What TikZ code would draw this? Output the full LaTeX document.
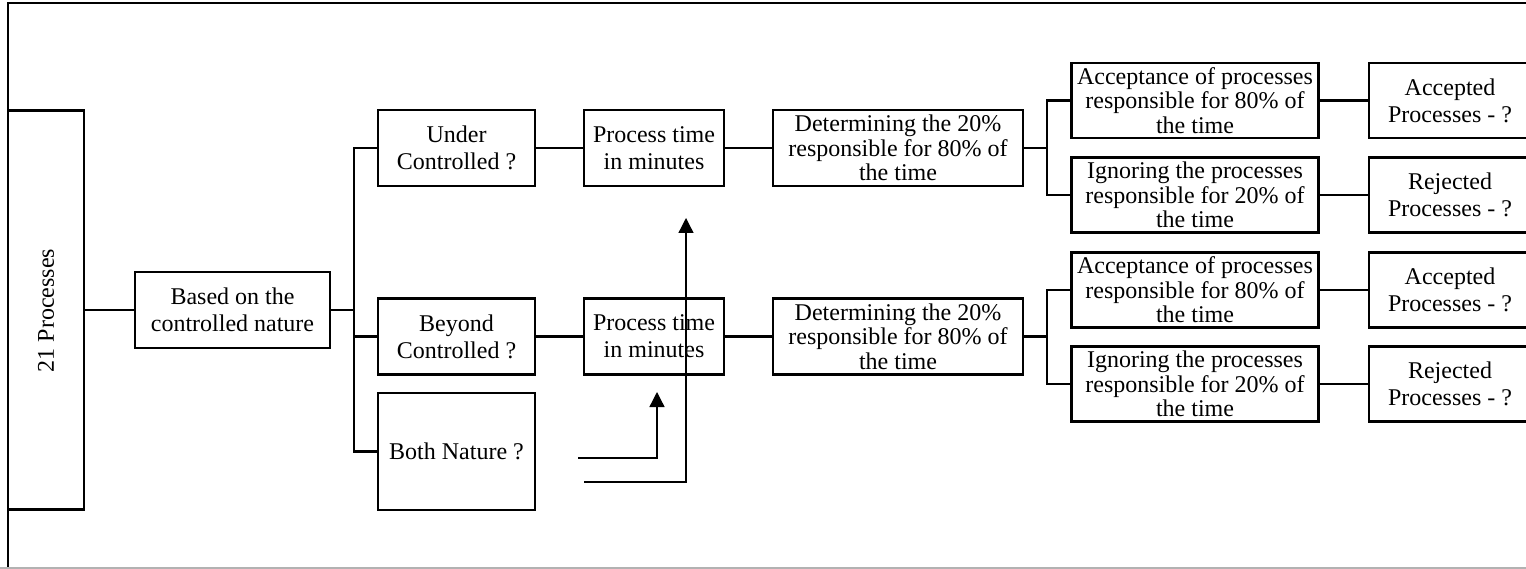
\documentclass[tikz,border=0pt]{standalone}
\usepackage{fontspec}
\setmainfont{Liberation Serif}
\usetikzlibrary{arrows.meta}
\newcommand{\cutbox}[1]{\parbox{162pt}{\centering\fontsize{24}{27}\selectfont #1}\hspace{18pt}}
\begin{document}
\begin{tikzpicture}[x=1pt,y=1pt,
  box/.style={draw,line width=2.6pt,rectangle,inner sep=0pt,align=center,
    font=\fontsize{24}{27}\selectfont},
  boxiii/.style={box,font=\fontsize{24}{24.5}\selectfont},
  conn/.style={line width=2.6pt},
  arr/.style={line width=1.3pt,-{Triangle[width=15pt,length=15pt]}}]
\useasboundingbox (0,0) rectangle (1526,-569);
% frame
\draw[line width=2pt] (8,-569) -- (8,-3) -- (1530,-3);
\draw[line width=1.5pt,gray!60] (0,-568) -- (1526,-568);
% nodes
\node[box,minimum width=76pt,minimum height=399pt] (p21) at (46,-310) {};
\node[rotate=90,font=\fontsize{24}{27}\selectfont] (p21t) at (46,-310.5) {21 Processes};
\node[box,minimum width=195pt,minimum height=76pt] (based) at (232.5,-310) {Based on the\\controlled nature};
\node[box,minimum width=157pt,minimum height=76pt] (under) at (456.5,-148) {Under\\Controlled ?};
\node[box,minimum width=157pt,minimum height=76pt] (beyond) at (456.5,-336.5) {Beyond\\Controlled ?};
\node[box,minimum width=157pt,minimum height=117pt] (both) at (456.5,-451.5) {Both Nature ?};
\node[box,minimum width=140pt,minimum height=76pt] (pt1) at (654,-148) {Process time\\in minutes};
\node[box,minimum width=140pt,minimum height=76pt] (pt2) at (654,-336.5) {Process time\\in minutes};
\node[boxiii,minimum width=250pt,minimum height=76pt] (det1) at (898,-148) {Determining the 20\%\\responsible for 80\% of\\the time};
\node[boxiii,minimum width=250pt,minimum height=76pt] (det2) at (898,-336.5) {Determining the 20\%\\responsible for 80\% of\\the time};
\node[boxiii,minimum width=247pt,minimum height=75pt] (acc1) at (1195,-100.5) {Acceptance of processes\\responsible for 80\% of\\the time};
\node[boxiii,minimum width=247pt,minimum height=75pt] (ign1) at (1195,-195) {Ignoring the processes\\responsible for 20\% of\\the time};
\node[boxiii,minimum width=247pt,minimum height=75pt] (acc2) at (1195,-290) {Acceptance of processes\\responsible for 80\% of\\the time};
\node[boxiii,minimum width=247pt,minimum height=75pt] (ign2) at (1195,-384) {Ignoring the processes\\responsible for 20\% of\\the time};
\node[box,minimum width=180pt,minimum height=75pt] (ap1) at (1459,-100.5) {\cutbox{Accepted\\Processes - ?}};
\node[box,minimum width=180pt,minimum height=75pt] (rp1) at (1459,-195) {\cutbox{Rejected\\Processes - ?}};
\node[box,minimum width=180pt,minimum height=75pt] (ap2) at (1459,-290) {\cutbox{Accepted\\Processes - ?}};
\node[box,minimum width=180pt,minimum height=75pt] (rp2) at (1459,-384) {\cutbox{Rejected\\Processes - ?}};
% connectors
\coordinate (bus) at (354,-310);
\coordinate (bus1) at (1047,-148);
\coordinate (bus2) at (1047,-336.5);
\draw[conn] (p21.east) -- (based.west);
\draw[conn] (based.east) -- (bus);
\draw[conn] (bus) |- (under.west);
\draw[conn] (bus) |- (beyond.west);
\draw[conn] (bus) |- (both.west);
\draw[conn] (under) -- (pt1);
\draw[conn] (pt1) -- (det1);
\draw[conn] (det1.east) -- (bus1);
\draw[conn] (bus1) |- (acc1.west);
\draw[conn] (bus1) |- (ign1.west);
\draw[conn] (acc1.east) -- (acc1.east -| ap1.west);
\draw[conn] (ign1.east) -- (ign1.east -| rp1.west);
\draw[conn] (beyond) -- (pt2);
\draw[conn] (pt2) -- (det2);
\draw[conn] (det2.east) -- (bus2);
\draw[conn] (bus2) |- (acc2.west);
\draw[conn] (bus2) |- (ign2.west);
\draw[conn] (acc2.east) -- (acc2.east -| ap2.west);
\draw[conn] (ign2.east) -- (ign2.east -| rp2.west);
% arrows
\coordinate (a1s) at (578,-458);
\coordinate (a1t) at (657,-392);
\coordinate (a2s) at (584,-482);
\coordinate (a2t) at (686,-218);
\draw[arr] (a1s) -| (a1t);
\draw[arr] (a2s) -| (a2t);
\end{tikzpicture}
\end{document}
